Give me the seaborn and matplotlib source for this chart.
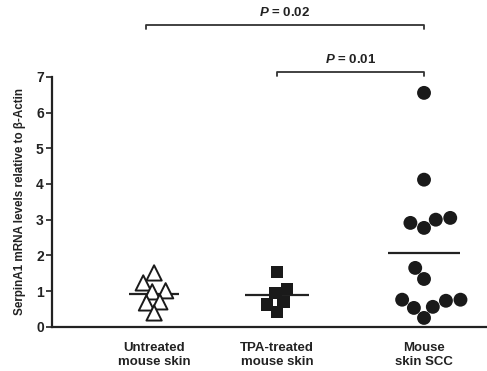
"""SerpinA1 mRNA levels in mouse skin groups: swarm of samples with mean bars."""

import matplotlib

matplotlib.use("Agg")
import matplotlib.pyplot as plt
import numpy as np
import pandas as pd
import seaborn as sns
from matplotlib.collections import PathCollection

GROUPS = ["Untreated\nmouse skin", "TPA-treated\nmouse skin", "Mouse\nskin SCC"]
UNTREATED = [1.51, 1.23, 1.01, 0.98, 0.67, 0.70, 0.39]
TPA_TREATED = [1.54, 1.06, 0.95, 0.70, 0.62, 0.42]
SCC = [6.55, 4.12, 3.05, 3.00, 2.91, 2.77, 1.65, 1.34, 0.73, 0.53, 0.56, 0.76, 0.76, 0.25]
COMPARISONS = [(0, 2, "0.02"), (1, 2, "0.01")]
Y_TICKS = [0, 1, 2, 3, 4, 5, 6, 7]
Y_LABEL = "SerpinA1 mRNA levels relative to β-Actin"

# layout / style
GROUP_POS = [1.02, 2.25, 3.72]
MEAN_HALF_WIDTH = [0.25, 0.32, 0.36]
MARKERS = ["^", "s", "o"]
FACES = ["white", "#1a1a1a", "#1a1a1a"]
MARKER_SIZE = [11, 9, 10]
SWARM_SIZE = [7.5, 8.5, 10]

sns.set_style("ticks")
plt.rcParams["font.family"] = ["Liberation Sans", "DejaVu Sans"]
plt.rcParams["font.weight"] = "bold"
plt.rcParams["mathtext.fontset"] = "custom"
plt.rcParams["mathtext.it"] = "Liberation Sans:italic:bold"

frames = []
for name, pos, values in zip(GROUPS, GROUP_POS, [UNTREATED, TPA_TREATED, SCC]):
    frames.append(pd.DataFrame({"group": name, "pos": pos, "value": values}))
table = pd.concat(frames, ignore_index=True)

fig = plt.figure(figsize=(4.87, 3.71), dpi=100)
ax = fig.add_axes([0.107, 0.119, 0.893, 0.674])

for i, name in enumerate(GROUPS):
    sub = table[table["group"] == name]
    sns.swarmplot(
        data=sub, x="pos", y="value", native_scale=True, orient="x",
        marker=MARKERS[i], color=FACES[i], edgecolor="#1a1a1a",
        linewidth=1.4 if i == 0 else 0, size=SWARM_SIZE[i], ax=ax, zorder=3,
    )
    mean = sub["value"].mean()
    ax.hlines(mean, GROUP_POS[i] - MEAN_HALF_WIDTH[i], GROUP_POS[i] + MEAN_HALF_WIDTH[i],
              color="#222222", linewidth=1.6, zorder=2)

ax.set_xlim(0, 4.35)
ax.set_ylim(0, 7)

# fix the swarm layout, then draw the markers at their real size
fig.canvas.draw()
swarms = [c for c in ax.collections if isinstance(c, PathCollection)]
for coll, size in zip(swarms, MARKER_SIZE):
    if "draw" in vars(coll):
        del coll.draw
    coll.set_sizes(np.full(len(coll.get_offsets()), size ** 2))

ax.set_yticks(Y_TICKS)
ax.set_yticklabels([str(t) for t in Y_TICKS], fontsize=10, fontweight="bold")
ax.set_xticks(GROUP_POS)
ax.set_xticklabels(GROUPS, fontsize=9.5, fontweight="bold", color="#222222")
ax.tick_params(axis="x", length=0, pad=11)
ax.tick_params(axis="y", length=4, width=1.2, pad=2, colors="#222222")
ax.set_xlabel("")
ax.set_ylabel(Y_LABEL, fontsize=8.4, fontweight="bold", labelpad=7, color="#222222")
for side in ["top", "right"]:
    ax.spines[side].set_visible(False)
for side in ["left", "bottom"]:
    ax.spines[side].set_linewidth(1.6)
    ax.spines[side].set_color("#222222")

# significance brackets above the plot
bracket_y = {"0.01": 7.14, "0.02": 8.46}
for a, b, p in COMPARISONS:
    y = bracket_y[p]
    x0, x1 = GROUP_POS[a] - (0.08 if a == 0 else 0), GROUP_POS[b]
    ax.plot([x0, x0, x1, x1], [y - 0.13, y, y, y - 0.13], color="#333333",
            linewidth=1.3, clip_on=False)
    ax.text((x0 + x1) / 2, y + 0.17, rf"$\mathit{{P}}$ = {p}", ha="center", va="bottom",
            fontsize=9.5, fontweight="bold", color="#222222")

fig.savefig("out.png", dpi=100)
